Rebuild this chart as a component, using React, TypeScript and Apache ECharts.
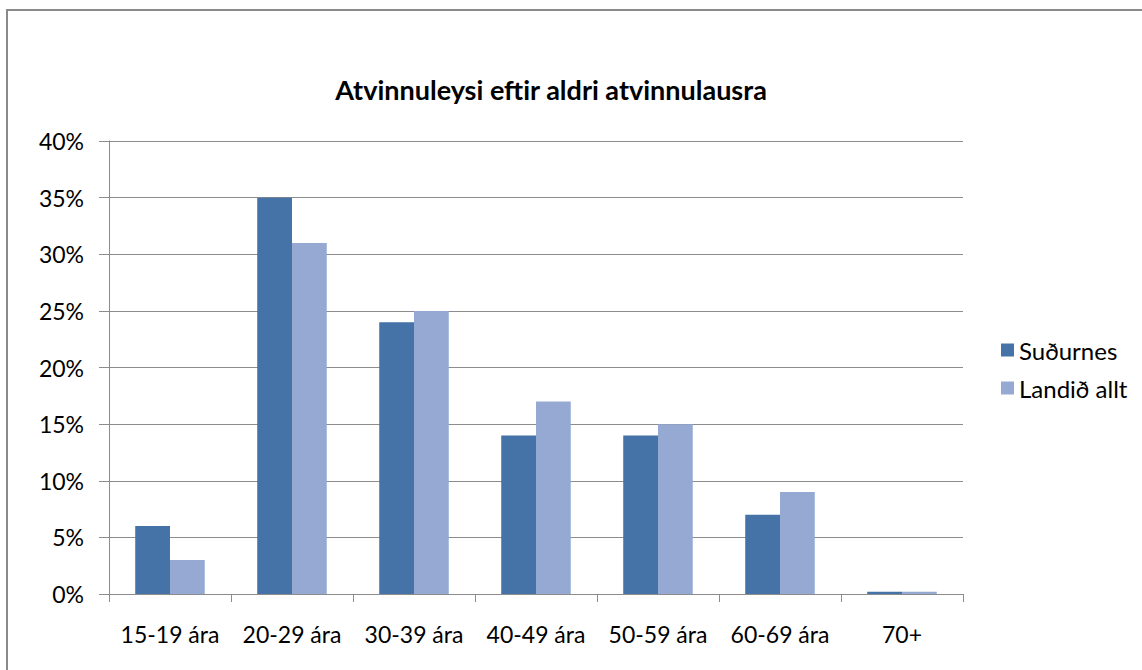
import React, { useEffect, useRef } from "react";
import * as echarts from "echarts";

const categories = ["15-19 ára", "20-29 ára", "30-39 ára", "40-49 ára", "50-59 ára", "60-69 ára", "70+"];
const sudurnes = [6, 35, 24, 14, 14, 7, 0.2];
const landidAllt = [3, 31, 25, 17, 15, 9, 0.2];
const seriesNames = ["Suðurnes", "Landið allt"];
const titleText = "Atvinnuleysi eftir aldri atvinnulausra";

const FONT = "Lato, 'Open Sans', sans-serif";

export default function App() {
  const ref = useRef<HTMLDivElement>(null);
  useEffect(() => {
    const chart = echarts.init(ref.current!, null, { renderer: "svg" });
    chart.setOption({
      animation: false,
      backgroundColor: "#ffffff",
      title: {
        text: titleText,
        left: 546,
        top: 71,
        textAlign: "center",
        textStyle: { fontFamily: FONT, fontSize: 27, fontWeight: "bold", color: "#000" },
      },
      graphic: [
        {
          type: "rect",
          shape: { x: 7, y: 10, width: 1300, height: 800 },
          style: { fill: "none", stroke: "#8a8a8a", lineWidth: 2 },
          silent: true,
        },
      ],
      legend: {
        orient: "vertical",
        left: 996,
        top: 333,
        itemWidth: 13,
        itemHeight: 13,
        itemGap: 14,
        icon: "rect",
        textStyle: { fontFamily: FONT, fontSize: 24, color: "#000" },
        data: seriesNames,
      },
      grid: { left: 109, right: 179, top: 141, bottom: 76, containLabel: false },
      xAxis: {
        type: "category",
        data: categories,
        axisLine: { lineStyle: { color: "#8c8c8c", width: 1 } },
        axisTick: { show: true, interval: 0, length: 8, lineStyle: { color: "#8c8c8c" } },
        axisLabel: { interval: 0, fontFamily: FONT, fontSize: 23, color: "#000", margin: 28 },
        splitLine: { show: false },
      },
      yAxis: {
        type: "value",
        min: 0,
        max: 40,
        interval: 5,
        axisLine: { show: true, lineStyle: { color: "#8c8c8c", width: 1 } },
        axisTick: { show: true, length: 10, lineStyle: { color: "#8c8c8c" } },
        axisLabel: {
          fontFamily: FONT,
          fontSize: 23,
          color: "#000",
          margin: 25,
          formatter: (v: number) => v + "%",
        },
        splitLine: { show: true, lineStyle: { color: "#8c8c8c", width: 1 } },
      },
      series: [
        {
          name: seriesNames[0],
          type: "bar",
          data: sudurnes,
          barGap: "0%",
          barCategoryGap: "43%",
          itemStyle: { color: "#4572A7" },
        },
        {
          name: seriesNames[1],
          type: "bar",
          data: landidAllt,
          barGap: "0%",
          barCategoryGap: "43%",
          itemStyle: { color: "#95A9D2" },
        },
      ],
    });
    return () => chart.dispose();
  }, []);
  return (
    <div
      ref={ref}
      style={{ position: "absolute", left: 0, top: 0, width: 1142, height: 670 }}
    />
  );
}
